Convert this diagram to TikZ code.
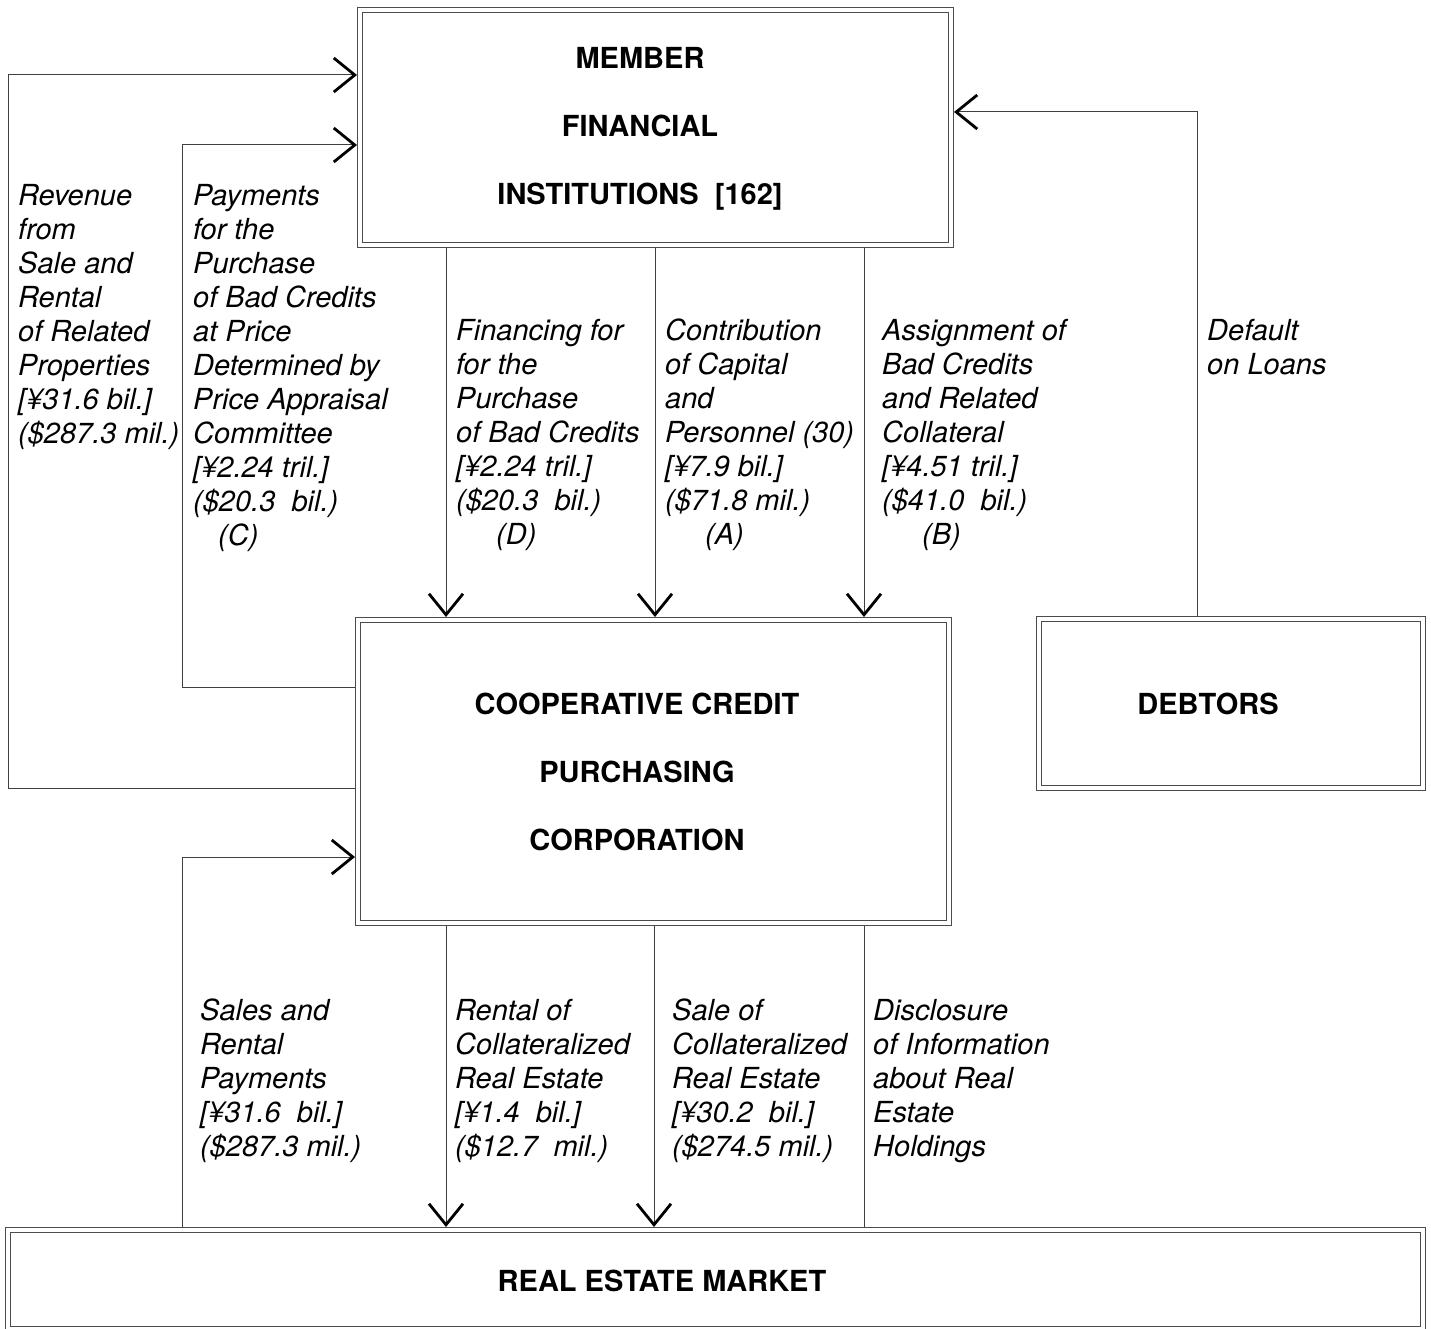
\documentclass[tikz,border=0pt]{standalone}
\usepackage{fontspec}
\setmainfont{TeX Gyre Heros}
\usetikzlibrary{arrows.meta}

\begin{document}
\begin{tikzpicture}[x=1pt,y=-1pt,
  box/.style={draw=black!70,double,line width=1.1pt,double distance=4pt,
    inner sep=0pt,outer sep=3.1pt},
  boxtext/.style={font=\bfseries\fontsize{29}{68}\selectfont,align=center},
  lbl/.style={anchor=north west,inner sep=0pt,align=left,
    font=\itshape\fontsize{29}{34}\selectfont},
  flow/.style={draw=black!75,line width=1pt,
    -{Straight Barb[length=21pt,width=34pt,line width=2.8pt,color=black]}},
  plain/.style={draw=black!75,line width=1pt}]
\useasboundingbox (0,0) rectangle (1431,1329);
% boxes
\node[box,minimum width=590.8,minimum height=234.8] (member) at (655.5,127.5) {};
\node[box,minimum width=590.8,minimum height=302.8] (coop) at (653.5,771.5) {};
\node[box,minimum width=383.8,minimum height=168.8] (debtors) at (1231,703.5) {};
\node[box,minimum width=1414.8,minimum height=98.8] (market) at (715.5,1279.5) {};
\node[boxtext] (memberlbl) at (640,129) {MEMBER\\FINANCIAL\\INSTITUTIONS~ [162]};
\node[boxtext] (cooplbl) at (637,772) {COOPERATIVE CREDIT\\PURCHASING\\CORPORATION};
\node[boxtext] (debtorslbl) at (1208,704) {DEBTORS};
\node[boxtext] (marketlbl) at (662,1281) {REAL ESTATE MARKET};
% flows
\draw[flow] (coop.west |- 0,788) -| (8,75) -- (member.west |- 0,75);
\draw[flow] (coop.west |- 0,687) -| (182,145) -- (member.west |- 0,145);
\foreach \x in {446,655,864}
  \draw[flow] (member.south -| \x,0) -- (coop.north -| \x,0);
\draw[flow] (debtors.north -| 1197,0) |- (member.east |- 0,112);
\draw[flow] (market.north -| 182,0) |- (coop.west |- 0,857);
\foreach \x in {446,654}
  \draw[flow] (coop.south -| \x,0) -- (market.north -| \x,0);
\draw[plain] (coop.south -| 864,0) -- (market.north -| 864,0);
% labels
\node[lbl] (revlbl) at (18,184) {Revenue\\from\\Sale and\\Rental\\of Related\\Properties\\{}[¥31.6 bil.]\\(\$287.3 mil.)};
\node[lbl] (paylbl) at (193,184) {Payments\\for the\\Purchase\\of Bad Credits\\at Price\\Determined by\\Price Appraisal\\Committee\\{}[¥2.24 tril.]\\(\$20.3~ bil.)\\\hspace*{25pt}(C)};
\node[lbl] (finlbl) at (456,319) {Financing for\\for the\\Purchase\\of Bad Credits\\{}[¥2.24 tril.]\\(\$20.3~ bil.)\\\hspace*{40pt}(D)};
\node[lbl] (conlbl) at (665,319) {Contribution\\of Capital\\and\\Personnel (30)\\{}[¥7.9 bil.]\\(\$71.8 mil.)\\\hspace*{40pt}(A)};
\node[lbl] (asglbl) at (882,319) {Assignment of\\Bad Credits\\and Related\\Collateral\\{}[¥4.51 tril.]\\(\$41.0~ bil.)\\\hspace*{40pt}(B)};
\node[lbl] (deflbl) at (1207,319) {Default\\on Loans};
\node[lbl] (salelbl) at (200,999) {Sales and\\Rental\\Payments\\{}[¥31.6~ bil.]\\(\$287.3 mil.)};
\node[lbl] (rentlbl) at (455,999) {Rental of\\Collateralized\\Real Estate\\{}[¥1.4~ bil.]\\(\$12.7~ mil.)};
\node[lbl] (soldlbl) at (672,999) {Sale of\\Collateralized\\Real Estate\\{}[¥30.2~ bil.]\\(\$274.5 mil.)};
\node[lbl] (disclbl) at (873,999) {Disclosure\\of Information\\about Real\\Estate\\Holdings};
\end{tikzpicture}
\end{document}
